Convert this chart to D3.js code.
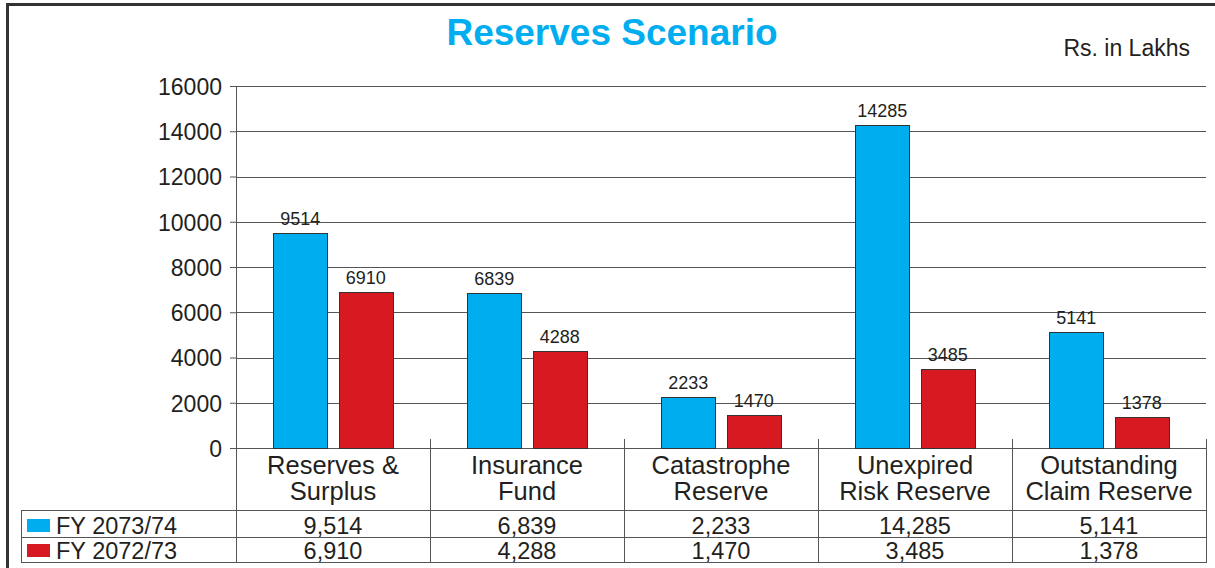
<!DOCTYPE html>
<html>
<head>
<meta charset="utf-8">
<script src="https://cdn.jsdelivr.net/npm/d3@7"></script>
<style>
	body { margin: 0; background: #fff; }
	svg { display: block; font-family: "Liberation Sans", Arial, sans-serif; }
</style>
</head>
<body>
<svg id="chart" width="1215" height="568"></svg>
<script>
// chart data
var categories = [
	["Reserves &", "Surplus"],
	["Insurance", "Fund"],
	["Catastrophe", "Reserve"],
	["Unexpired", "Risk Reserve"],
	["Outstanding", "Claim Reserve"]
];
var seriesNames = ["FY 2073/74", "FY 2072/73"];
var fy7374 = [9514, 6839, 2233, 14285, 5141];
var fy7273 = [6910, 4288, 1470, 3485, 1378];
var yTicks = [0, 2000, 4000, 6000, 8000, 10000, 12000, 14000, 16000];

var colors = ["#00aeef", "#d71a21"];
var textColor = "#231f20";
var lineColor = "#555";

var margin = { top: 86, left: 236, right: 10 },
	width = 1206 - margin.left,
	height = 448 - margin.top;

var svg = d3.select("#chart");

// outer frame (left and top visible)
svg.append("path")
	.attr("d", "M7.5,568 L7.5,4.5 L1216,4.5")
	.attr("fill", "none")
	.attr("stroke", "#333")
	.attr("stroke-width", 3);

// title
svg.append("text")
	.attr("x", 612)
	.attr("y", 45)
	.attr("text-anchor", "middle")
	.style("font-size", "37px")
	.style("font-weight", "bold")
	.style("fill", "#00aeef")
	.text("Reserves Scenario");

svg.append("text")
	.attr("x", 1190)
	.attr("y", 56)
	.attr("text-anchor", "end")
	.style("font-size", "23px")
	.style("fill", textColor)
	.text("Rs. in Lakhs");

var g = svg.append("g")
	.attr("transform", "translate(" + margin.left + "," + margin.top + ")");

var keys = categories.map(function (d) { return d.join(" "); });

var x0 = d3.scaleBand().domain(keys).range([0, width]).paddingInner(0).paddingOuter(0);
var x1 = d3.scaleBand().domain(seriesNames).range([0, x0.bandwidth()])
	.paddingInner(0.185).paddingOuter(0.57);
var y = d3.scaleLinear().domain([0, 16000]).range([height, 0]);

// gridlines
g.append("g").selectAll("line")
	.data(yTicks)
	.enter().append("line")
	.attr("x1", 0)
	.attr("x2", width)
	.attr("y1", function (d) { return Math.round(y(d)) + 0.5; })
	.attr("y2", function (d) { return Math.round(y(d)) + 0.5; })
	.attr("stroke", lineColor)
	.attr("stroke-width", 1);

// y axis
var yAxis = d3.axisLeft(y).tickValues(yTicks).tickSize(6).tickPadding(8).tickFormat(d3.format("d"));
var ya = g.append("g").call(yAxis);
ya.select(".domain").remove();
ya.selectAll(".tick line").attr("stroke", lineColor);
ya.selectAll(".tick text")
	.style("font-size", "23px")
	.style("fill", textColor)
	.attr("dy", "0.36em");
ya.style("font-family", null);

// axis line
g.append("line")
	.attr("x1", 0.5).attr("x2", 0.5)
	.attr("y1", 0).attr("y2", 562 - margin.top)
	.attr("stroke", lineColor);

// bars
var series = [fy7374, fy7273];
var groups = g.append("g").selectAll("g")
	.data(keys)
	.enter().append("g")
	.attr("transform", function (d) { return "translate(" + x0(d) + ",0)"; });

groups.selectAll("rect")
	.data(function (d, i) {
		return seriesNames.map(function (s, j) { return { key: s, value: series[j][i], idx: j }; });
	})
	.enter().append("rect")
	.attr("x", function (d) { return Math.round(x1(d.key)) + 0.5; })
	.attr("y", function (d) { return Math.round(y(d.value)) + 0.5; })
	.attr("width", Math.round(x1.bandwidth()))
	.attr("height", function (d) { return Math.round(height - y(d.value)); })
	.attr("fill", function (d) { return colors[d.idx]; })
	.attr("stroke", "#333")
	.attr("stroke-width", 1);

groups.selectAll("text.val")
	.data(function (d, i) {
		return seriesNames.map(function (s, j) { return { key: s, value: series[j][i] }; });
	})
	.enter().append("text")
	.attr("class", "val")
	.attr("x", function (d) { return x1(d.key) + x1.bandwidth() / 2; })
	.attr("y", function (d) { return y(d.value) - 8; })
	.attr("text-anchor", "middle")
	.style("font-size", "18px")
	.style("fill", textColor)
	.text(function (d) { return d.value; });

// data table
var rowTop = 510 - margin.top, row1 = 537 - margin.top, row2 = 562 - margin.top;
var tableLeft = 21 - margin.left;
var tbl = g.append("g");

[rowTop, row1, row2].forEach(function (yy) {
	tbl.append("line")
		.attr("x1", tableLeft).attr("x2", width)
		.attr("y1", yy + 0.5).attr("y2", yy + 0.5)
		.attr("stroke", lineColor);
});
tbl.append("line")
	.attr("x1", tableLeft + 0.5).attr("x2", tableLeft + 0.5)
	.attr("y1", rowTop).attr("y2", row2 + 1)
	.attr("stroke", lineColor);

// category separators
tbl.selectAll("line.sep")
	.data(keys)
	.enter().append("line")
	.attr("class", "sep")
	.attr("x1", function (d) { return x0(d) + x0.bandwidth() + 0.5; })
	.attr("x2", function (d) { return x0(d) + x0.bandwidth() + 0.5; })
	.attr("y1", height - 9)
	.attr("y2", row2 + 1)
	.attr("stroke", lineColor);

// category labels
var catText = tbl.selectAll("text.cat")
	.data(categories)
	.enter().append("text")
	.attr("class", "cat")
	.attr("x", function (d, i) { return x0(keys[i]) + x0.bandwidth() / 2; })
	.attr("y", height + 26)
	.attr("text-anchor", "middle")
	.style("font-size", "25.5px")
	.style("fill", textColor);
catText.selectAll("tspan")
	.data(function (d) { return d; })
	.enter().append("tspan")
	.attr("x", function () { return this.parentNode.getAttribute("x"); })
	.attr("dy", function (d, i) { return i ? 26 : 0; })
	.text(function (d) { return d; });

// value rows
var fmt = d3.format(",");
[row1, row2].forEach(function (yy, j) {
	tbl.selectAll("text.row" + j)
		.data(series[j])
		.enter().append("text")
		.attr("class", "row" + j)
		.attr("x", function (d, i) { return x0(keys[i]) + x0.bandwidth() / 2; })
		.attr("y", yy - 3)
		.attr("text-anchor", "middle")
		.style("font-size", "23.5px")
		.style("fill", textColor)
		.text(function (d) { return fmt(d); });

	// legend key in first column
	tbl.append("rect")
		.attr("x", 27 - margin.left)
		.attr("y", yy - 18)
		.attr("width", 23)
		.attr("height", 13)
		.attr("fill", colors[j]);
	tbl.append("text")
		.attr("x", 56 - margin.left)
		.attr("y", yy - 3)
		.style("font-size", "23.5px")
		.style("fill", textColor)
		.text(seriesNames[j]);
});
</script>
</body>
</html>
